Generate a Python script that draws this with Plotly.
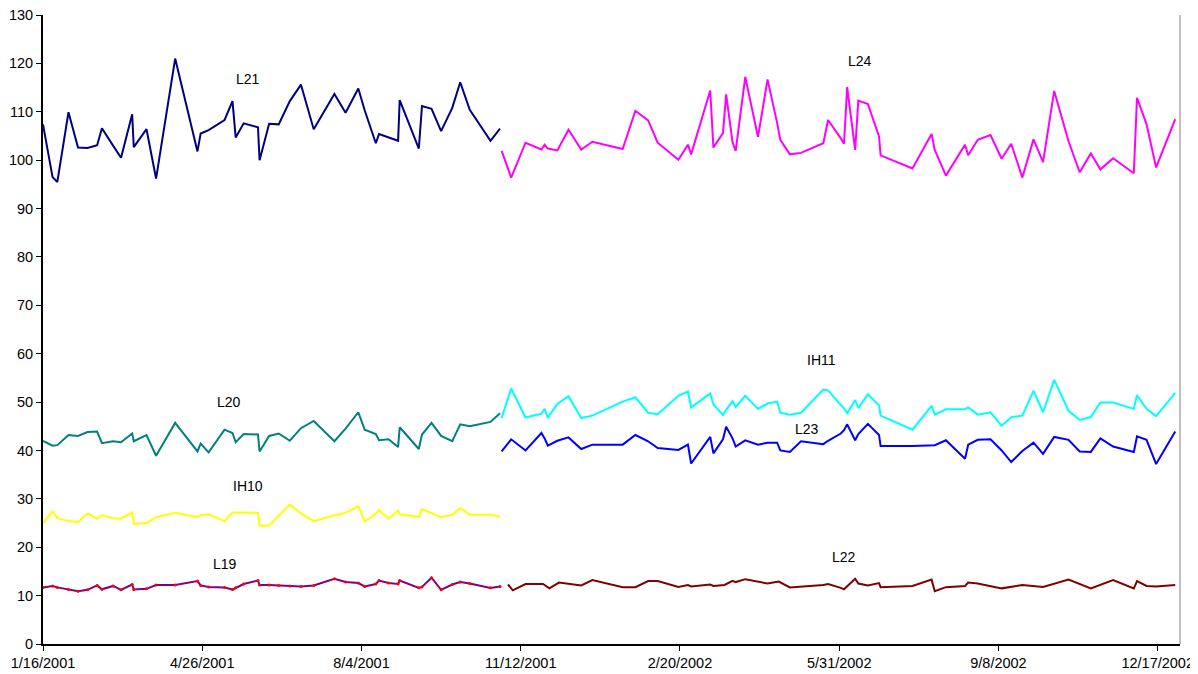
import plotly.graph_objects as go

# ---- first period (2001) sampling dates ----
dates_2001 = ["2001-01-16", "2001-01-22", "2001-01-25", "2001-02-01", "2001-02-07", "2001-02-13",
              "2001-02-19", "2001-02-22", "2001-03-01", "2001-03-06", "2001-03-13", "2001-03-14",
              "2001-03-22", "2001-03-28", "2001-04-09", "2001-04-23", "2001-04-25", "2001-04-30",
              "2001-05-10", "2001-05-15", "2001-05-17", "2001-05-22", "2001-05-31", "2001-06-01",
              "2001-06-07", "2001-06-13", "2001-06-20", "2001-06-27", "2001-07-05", "2001-07-18",
              "2001-07-25", "2001-08-02", "2001-08-06", "2001-08-13", "2001-08-15", "2001-08-21",
              "2001-08-27", "2001-08-28", "2001-09-09", "2001-09-11", "2001-09-17", "2001-09-23",
              "2001-09-30", "2001-10-05", "2001-10-11", "2001-10-24", "2001-10-30"]

L21 = [107.4, 96.5, 95.5, 109.9, 102.6, 102.5, 103.1, 106.6, 103.0, 100.5, 109.5, 102.7,
       106.4, 96.2, 121.0, 101.8, 105.5, 106.2, 108.3, 112.2, 104.7, 107.6, 106.8, 100.0,
       107.5, 107.4, 112.2, 115.6, 106.4, 113.7, 109.8, 114.8, 110.3, 103.5, 105.4, 104.7,
       104.0, 112.4, 102.4, 111.2, 110.6, 106.0, 110.8, 116.1, 110.4, 104.0, 106.5]

L20 = [42.0, 41.0, 41.1, 43.2, 43.0, 43.8, 43.9, 41.5, 41.9, 41.7, 43.5, 41.9,
       43.2, 38.9, 45.7, 39.8, 41.4, 39.6, 44.3, 43.6, 41.7, 43.4, 43.3, 39.8,
       43.0, 43.5, 42.0, 44.6, 46.1, 41.9, 44.5, 47.9, 44.3, 43.4, 42.1, 42.3,
       40.7, 44.8, 40.3, 43.3, 45.7, 43.0, 41.9, 45.4, 45.0, 45.9, 47.7]

IH10 = [25.0, 27.4, 26.0, 25.4, 25.2, 27.0, 25.9, 26.6, 26.0, 25.9, 27.2, 24.8,
        25.0, 26.2, 27.1, 26.2, 26.6, 26.8, 25.4, 27.2, 27.2, 27.2, 27.1, 24.4,
        24.5, 26.5, 28.8, 27.0, 25.4, 26.6, 27.1, 28.5, 25.3, 26.9, 27.7, 25.9,
        27.6, 26.8, 26.3, 27.9, 27.0, 26.2, 26.7, 28.1, 26.7, 26.7, 26.3]

L19 = [11.7, 12.0, 11.7, 11.25, 10.9, 11.2, 12.1, 11.3, 12.0, 11.2, 12.3, 11.25,
       11.4, 12.2, 12.2, 13.0, 12.1, 11.8, 11.7, 11.25, 11.6, 12.4, 13.1, 12.2,
       12.2, 12.1, 12.0, 11.9, 12.1, 13.5, 12.8, 12.6, 11.9, 12.4, 13.1, 12.6,
       12.4, 13.1, 11.6, 11.8, 13.7, 11.2, 12.3, 12.8, 12.5, 11.6, 11.9]

# ---- second period (2001-2002) sampling dates ----
dates_2002 = ["2001-10-31", "2001-11-06", "2001-11-15", "2001-11-25", "2001-11-27", "2001-11-29",
              "2001-12-05", "2001-12-12", "2001-12-20", "2001-12-27", "2002-01-15", "2002-01-23",
              "2002-01-31", "2002-02-06", "2002-02-19", "2002-02-25", "2002-02-27", "2002-03-11",
              "2002-03-13", "2002-03-19", "2002-03-21", "2002-03-25", "2002-03-27", "2002-04-02",
              "2002-04-10", "2002-04-16", "2002-04-22", "2002-04-24", "2002-04-30", "2002-05-07",
              "2002-05-21", "2002-05-24", "2002-06-01", "2002-06-03", "2002-06-05", "2002-06-10",
              "2002-06-12", "2002-06-18", "2002-06-25", "2002-06-26", "2002-07-16", "2002-07-28",
              "2002-07-30", "2002-08-06", "2002-08-18", "2002-08-20", "2002-08-26", "2002-09-03",
              "2002-09-10", "2002-09-16", "2002-09-23", "2002-09-30", "2002-10-06", "2002-10-13",
              "2002-10-22", "2002-10-29", "2002-11-05", "2002-11-11", "2002-11-19", "2002-12-02",
              "2002-12-04", "2002-12-10", "2002-12-16", "2002-12-28"]

L24 = [101.9, 96.4, 103.6, 102.2, 103.2, 102.4, 102.0, 106.3, 102.2, 103.8, 102.3, 110.2,
       108.2, 103.6, 100.1, 103.2, 101.2, 114.4, 102.6, 105.6, 113.6, 103.7, 101.9, 117.2,
       104.8, 116.7, 107.7, 104.2, 101.2, 101.5, 103.5, 108.3, 104.5, 103.4, 115.1, 102.1,
       112.3, 111.6, 104.9, 101.0, 98.3, 105.4, 102.1, 96.8, 103.2, 101.0, 104.2, 105.2,
       100.3, 103.4, 96.4, 104.3, 99.6, 114.3, 103.9, 97.5, 101.4, 98.1, 100.4, 97.3,
       112.9, 107.4, 98.5, 108.5]

IH11 = [46.7, 52.8, 46.8, 47.6, 48.6, 46.8, 49.6, 51.2, 46.7, 47.2, 50.1, 51.0,
        47.8, 47.5, 51.3, 52.2, 48.9, 51.8, 49.5, 47.3, 48.4, 50.2, 49.0, 51.3,
        48.6, 49.7, 50.1, 47.8, 47.4, 47.8, 52.6, 52.4, 49.4, 48.7, 47.7, 50.4,
        48.8, 51.6, 49.3, 47.2, 44.3, 49.2, 47.4, 48.5, 48.5, 48.9, 47.4, 47.9,
        45.1, 46.9, 47.2, 52.3, 47.9, 54.6, 48.2, 46.3, 46.9, 49.9, 49.9, 48.6,
        51.4, 48.6, 47.1, 51.9]

L23 = [39.8, 42.3, 40.0, 43.6, 42.5, 41.0, 42.0, 42.7, 40.3, 41.2, 41.2, 43.2,
       41.9, 40.5, 40.1, 41.2, 37.3, 42.8, 39.4, 42.3, 44.9, 42.5, 40.8, 42.1,
       41.2, 41.6, 41.6, 40.0, 39.7, 41.9, 41.3, 42.0, 43.5, 44.2, 45.4, 42.1,
       43.4, 45.5, 43.2, 40.9, 40.9, 41.0, 41.1, 42.1, 38.3, 41.2, 42.2, 42.3,
       40.0, 37.6, 39.9, 41.6, 39.3, 42.8, 42.2, 39.8, 39.7, 42.5, 40.8, 39.7,
       42.9, 42.2, 37.2, 43.9]

dates_L22 = ["2001-11-04", "2001-11-07", "2001-11-15", "2001-11-26", "2001-11-30", "2001-12-06",
             "2001-12-20", "2001-12-27", "2002-01-15", "2002-01-23", "2002-01-31", "2002-02-06",
             "2002-02-19", "2002-02-25", "2002-02-27", "2002-03-11", "2002-03-13", "2002-03-20",
             "2002-03-25", "2002-03-27", "2002-04-02", "2002-04-10", "2002-04-16", "2002-04-23",
             "2002-04-30", "2002-05-21", "2002-05-24", "2002-06-01", "2002-06-03", "2002-06-10",
             "2002-06-12", "2002-06-18", "2002-06-25", "2002-06-26", "2002-07-16", "2002-07-28",
             "2002-07-30", "2002-08-06", "2002-08-18", "2002-08-20", "2002-08-26", "2002-09-10",
             "2002-09-23", "2002-10-06", "2002-10-22", "2002-11-05", "2002-11-19", "2002-12-02",
             "2002-12-04", "2002-12-10", "2002-12-16", "2002-12-28"]

L22 = [12.3, 11.1, 12.4, 12.4, 11.5, 12.7, 12.1, 13.2, 11.75, 11.75, 13.0, 13.0,
       11.8, 12.2, 11.9, 12.3, 12.0, 12.2, 13.05, 12.8, 13.4, 12.9, 12.5, 12.9,
       11.7, 12.2, 12.4, 11.6, 11.3, 13.5, 12.5, 12.1, 12.6, 11.75, 12.0, 13.3,
       10.9, 11.75, 12.0, 12.7, 12.5, 11.5, 12.2, 11.8, 13.3, 11.5, 13.2, 11.5,
       13.0, 12.0, 11.9, 12.2]

# series label text and anchor positions (date, value)
label_names = ["L21", "L20", "IH10", "L19", "L24", "IH11", "L23", "L22"]
label_dates = ["2001-05-25", "2001-05-13", "2001-05-25", "2001-05-10",
               "2002-06-13", "2002-05-20", "2002-05-11", "2002-06-03"]
label_values = [116.8, 50.0, 32.6, 16.5, 120.4, 58.6, 44.5, 18.0]

FONT = "Liberation Sans, Arial, sans-serif"

fig = go.Figure()

def add_line(x, y, name, color, markers=False):
    fig.add_trace(go.Scatter(
        x=x, y=y, name=name, mode="lines+markers" if markers else "lines",
        line=dict(color=color, width=2),
        marker=dict(color="#FF0000", size=3) if markers else None,
        showlegend=False))

add_line(dates_2001, L21, "L21", "#000080")
add_line(dates_2001, L20, "L20", "#008080")
add_line(dates_2001, IH10, "IH10", "#FFFF00")
add_line(dates_2001, L19, "L19", "#800080", markers=True)
add_line(dates_2002, L24, "L24", "#FF00FF")
add_line(dates_2002, IH11, "IH11", "#00FFFF")
add_line(dates_2002, L23, "L23", "#0000FF")
add_line(dates_L22, L22, "L22", "#800000")

for name, d, v in zip(label_names, label_dates, label_values):
    fig.add_annotation(x=d, y=v, text=name, showarrow=False,
                       font=dict(family=FONT, size=14, color="black"))

# right border of plot area
fig.add_shape(type="line", xref="paper", yref="paper", x0=1, x1=1, y0=0, y1=1,
              line=dict(color="#808080", width=1))

# page body adds an 8px offset, so the figure is sized to fill the remaining window
fig.update_layout(
    width=1190, height=666,
    margin=dict(l=35, r=18, t=7, b=30, autoexpand=False),
    paper_bgcolor="white", plot_bgcolor="white",
    font=dict(family=FONT, size=14, color="black"),
    xaxis=dict(
        type="date", automargin=False, ticklabeloverflow="allow",
        range=["2001-01-16", "2002-12-31"],
        tick0="2001-01-16", dtick=100 * 86400000,
        tickformat="%-m/%-d/%Y",
        showgrid=False, zeroline=False,
        showline=True, linecolor="black", linewidth=2,
        ticks="outside", ticklen=5, tickcolor="black",
        tickfont=dict(family=FONT, size=14.5, color="black"),
    ),
    yaxis=dict(
        automargin=False, ticklabeloverflow="allow",
        range=[0, 130], dtick=10, tick0=0,
        showgrid=False, zeroline=False,
        showline=True, linecolor="black", linewidth=2,
        ticks="outside", ticklen=5, tickcolor="black",
        tickfont=dict(family=FONT, size=14.5, color="black"),
    ),
)

fig.write_html("out.html")
